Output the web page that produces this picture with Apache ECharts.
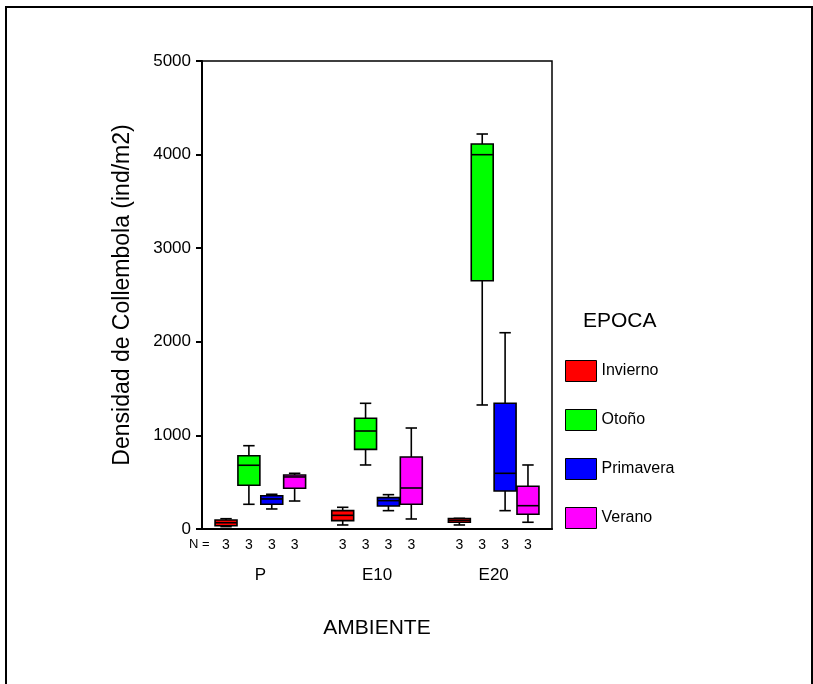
<!DOCTYPE html>
<html>
<head>
<meta charset="utf-8">
<script src="https://cdn.jsdelivr.net/npm/echarts@6/dist/echarts.min.js"></script>
<style>
  html, body { margin: 0; padding: 0; background: #fff; }
  #chart { width: 813px; height: 684px; }
</style>
</head>
<body>
<div id="chart"></div>
<script>
// categories
const ambientes = ['P', 'E10', 'E20'];
const epocas = ['Invierno', 'Otoño', 'Primavera', 'Verano'];
const colores = ['#ff0000', '#00ff00', '#0000ff', '#ff00ff'];

// [min, Q1, mediana, Q3, max] por ambiente (P, E10, E20)
const invierno = [[25, 35, 67, 96, 110], [43, 89, 146, 196, 232], [43, 72, 93, 112, 114]];
const otono = [[264, 467, 681, 783, 890], [684, 851, 1047, 1183, 1343], [1325, 2653, 3999, 4113, 4220]];
const primavera = [[214, 264, 321, 356, 371], [196, 246, 303, 335, 367], [196, 406, 595, 1343, 2097]];
const verano = [[299, 435, 556, 577, 595], [107, 264, 438, 769, 1079], [72, 157, 249, 456, 684]];

// N por ambiente y epoca
const nCounts = [[3, 3, 3, 3], [3, 3, 3, 3], [3, 3, 3, 3]];

const yMin = 0, yMax = 5000, yStep = 1000;

const seriesValues = [invierno, otono, primavera, verano];

const chart = echarts.init(document.getElementById('chart'), null, { renderer: 'canvas' });

function renderBox(params, api) {
  const cat = api.value(0);
  const band = api.size([1, 0])[0];
  const step = band * 0.196;
  const cx = api.coord([cat, 0])[0] + (params.seriesIndex - 1.5) * step;
  const half = step * 0.48;
  const cap = step * 0.25;
  const y = [1, 2, 3, 4, 5].map(function (d) {
    return api.coord([cat, api.value(d)])[1];
  });
  const ls = { stroke: '#000', lineWidth: 1.6 };
  return {
    type: 'group',
    children: [
      { type: 'line', shape: { x1: cx, y1: y[4], x2: cx, y2: y[3] }, style: ls },
      { type: 'line', shape: { x1: cx, y1: y[1], x2: cx, y2: y[0] }, style: ls },
      { type: 'line', shape: { x1: cx - cap, y1: y[4], x2: cx + cap, y2: y[4] }, style: ls },
      { type: 'line', shape: { x1: cx - cap, y1: y[0], x2: cx + cap, y2: y[0] }, style: ls },
      {
        type: 'rect',
        shape: { x: cx - half, y: y[3], width: half * 2, height: y[1] - y[3] },
        style: { fill: api.visual('color'), stroke: '#000', lineWidth: 1.6 }
      },
      { type: 'line', shape: { x1: cx - half, y1: y[2], x2: cx + half, y2: y[2] }, style: ls }
    ]
  };
}

const series = epocas.map(function (name, i) {
  return {
    name: name,
    type: 'custom',
    renderItem: renderBox,
    itemStyle: { color: colores[i], borderColor: '#000', borderWidth: 1 },
    encode: { x: 0, y: [1, 2, 3, 4, 5] },
    data: seriesValues[i].map(function (v, j) {
      return [j].concat(v);
    })
  };
});

const option = {
  animation: false,
  textStyle: { fontFamily: 'Liberation Sans', color: '#000' },
  title: {
    text: 'EPOCA',
    left: 578,
    top: 306,
    textStyle: { fontFamily: 'Liberation Sans', fontSize: 21, fontWeight: 'normal', color: '#000' }
  },
  legend: {
    orient: 'vertical',
    left: 565,
    top: 360,
    padding: 0,
    itemWidth: 31,
    itemHeight: 21,
    itemGap: 27,
    icon: 'rect',
    itemStyle: { borderColor: '#000', borderWidth: 1 },
    textStyle: { fontFamily: 'Liberation Sans', fontSize: 16, color: '#000' },
    data: epocas
  },
  graphic: [
    {
      type: 'rect',
      shape: { x: 6, y: 7, width: 806, height: 700 },
      style: { fill: 'none', stroke: '#000', lineWidth: 2 },
      silent: true
    },
    {
      type: 'text',
      left: 189,
      top: 538,
      style: { text: 'N =', font: '13px "Liberation Sans"', fill: '#000' }
    }
  ],
  grid: {
    left: 202,
    top: 61,
    width: 350,
    height: 468,
    show: true,
    borderColor: '#000',
    borderWidth: 1.5,
    backgroundColor: '#fff'
  },
  xAxis: {
    type: 'category',
    data: ambientes,
    name: 'AMBIENTE',
    nameLocation: 'middle',
    nameGap: 89,
    nameTextStyle: { fontFamily: 'Liberation Sans', fontSize: 21, color: '#000' },
    axisLine: { lineStyle: { color: '#000', width: 2 } },
    axisTick: { alignWithLabel: true, length: 6, lineStyle: { color: '#000', width: 2 } },
    axisLabel: {
      interval: 0,
      hideOverlap: false,
      margin: 7,
      color: '#000',
      formatter: function (value, idx) {
        const ns = nCounts[idx].map(function (n) { return '{n|' + n + '}'; }).join('');
        return ns + '\n{c|' + value + '}';
      },
      rich: {
        n: { width: 22.9, align: 'center', fontSize: 14, lineHeight: 18, fontFamily: 'Liberation Sans', color: '#000' },
        c: { fontSize: 17, lineHeight: 42, fontFamily: 'Liberation Sans', color: '#000' }
      }
    }
  },
  yAxis: {
    type: 'value',
    min: yMin,
    max: yMax,
    interval: yStep,
    name: 'Densidad de Collembola (ind/m2)',
    nameLocation: 'middle',
    nameGap: 68,
    nameTextStyle: { fontFamily: 'Liberation Sans', fontSize: 23, color: '#000' },
    splitLine: { show: false },
    axisLine: { show: true, lineStyle: { color: '#000', width: 2 } },
    axisTick: { show: true, length: 6, lineStyle: { color: '#000', width: 2 } },
    axisLabel: {
      margin: 11,
      fontSize: 17,
      color: '#000',
      fontFamily: 'Liberation Sans',
      formatter: function (v) { return String(v); }
    }
  },
  series: series
};

chart.setOption(option);
</script>
</body>
</html>
